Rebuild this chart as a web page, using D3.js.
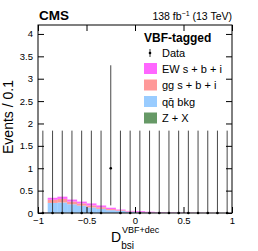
<!DOCTYPE html>
<html>
<head>
<meta charset="utf-8">
<script src="https://cdn.jsdelivr.net/npm/d3@7"></script>
<style>
  body { margin: 0; background: #fff; }
  text { font-family: "Liberation Sans", Arial, sans-serif; }
</style>
</head>
<body>
<div id="content"></div>
<script>
// Bin low edges (width 0.1)
var binLow = [-1.0, -0.9, -0.8, -0.7, -0.6, -0.5, -0.4, -0.3, -0.2, -0.1,
              0.0, 0.1, 0.2, 0.3, 0.4, 0.5, 0.6, 0.7, 0.8, 0.9];
var binWidth = 0.1;

// Stacked expectations, bottom to top
var zxValues = [0.001, 0.005, 0.005, 0.005, 0.004, 0.004, 0.003, 0.003, 0.002, 0.002,
                0.002, 0.001, 0.001, 0.001, 0.001, 0.001, 0.001, 0.0, 0.0, 0.0];
var qqValues = [0.005, 0.22, 0.23, 0.19, 0.16, 0.12, 0.09, 0.06, 0.045, 0.025,
                0.012, 0.008, 0.006, 0.004, 0.003, 0.002, 0.002, 0.001, 0.001, 0.001];
var ggValues = [0.003, 0.07, 0.08, 0.06, 0.05, 0.045, 0.035, 0.025, 0.015, 0.008,
                0.006, 0.005, 0.004, 0.003, 0.002, 0.002, 0.001, 0.001, 0.0, 0.0];
var ewValues = [0.002, 0.045, 0.05, 0.045, 0.04, 0.045, 0.04, 0.03, 0.015, 0.012,
                0.02, 0.014, 0.008, 0.006, 0.005, 0.004, 0.003, 0.002, 0.001, 0.001];

// Observed data with asymmetric Poisson errors
var dataValues = [0, 0, 0, 0, 0, 0, 0, 1, 0, 0, 0, 0, 0, 0, 0, 0, 0, 0, 0, 0];
var dataErrLow = [0, 0, 0, 0, 0, 0, 0, 0.83, 0, 0, 0, 0, 0, 0, 0, 0, 0, 0, 0, 0];
var dataErrHigh = [1.84, 1.84, 1.84, 1.84, 1.84, 1.84, 1.84, 2.30, 1.84, 1.84,
                   1.84, 1.84, 1.84, 1.84, 1.84, 1.84, 1.84, 1.84, 1.84, 1.84];

var xTicks = [-1, -0.5, 0, 0.5, 1];
var yTicks = [0, 0.5, 1, 1.5, 2, 2.5, 3, 3.5, 4];

var legendLabels = ["EW s + b + i", "gg s + b + i", "qq\u0304 bkg", "Z + X"];
var seriesColors = ["#ff66ff", "#ff9999", "#99ccff", "#669966"];

var svgWidth = 258, svgHeight = 251;
var margin = { top: 25, right: 26, bottom: 38, left: 38 },
    plotWidth = svgWidth - margin.left - margin.right,
    plotHeight = svgHeight - margin.top - margin.bottom;

var svg = d3.select("#content").append("svg")
    .attr("width", svgWidth)
    .attr("height", svgHeight);

var plot = svg.append("g")
    .attr("transform", "translate(" + margin.left + "," + margin.top + ")");

var xScale = d3.scaleLinear().domain([-1, 1]).range([0, plotWidth]);
var yScale = d3.scaleLinear().domain([0, 4.2]).range([plotHeight, 0]);

// Build stack rows
var rows = binLow.map(function (x, i) {
    return { x: x, zx: zxValues[i], qq: qqValues[i], gg: ggValues[i], ew: ewValues[i] };
});
var stack = d3.stack().keys(["zx", "qq", "gg", "ew"]);
var layers = stack(rows);
var layerColors = { zx: "#669966", qq: "#99ccff", gg: "#ff9999", ew: "#ff66ff" };

layers.forEach(function (layer) {
    plot.selectAll(".bar-" + layer.key)
        .data(layer)
        .enter().append("rect")
        .attr("class", "bar-" + layer.key)
        .attr("x", function (d) { return xScale(d.data.x); })
        .attr("width", function (d) { return xScale(d.data.x + binWidth) - xScale(d.data.x) + 0.3; })
        .attr("y", function (d) { return yScale(d[1]); })
        .attr("height", function (d) { return Math.max(0, yScale(d[0]) - yScale(d[1])); })
        .attr("fill", layerColors[layer.key]);
});

// Data error bars
var dataRows = binLow.map(function (x, i) {
    return { c: x + binWidth / 2, v: dataValues[i], lo: dataErrLow[i], hi: dataErrHigh[i] };
});
plot.selectAll(".err")
    .data(dataRows)
    .enter().append("line")
    .attr("class", "err")
    .attr("x1", function (d) { return xScale(d.c); })
    .attr("x2", function (d) { return xScale(d.c); })
    .attr("y1", function (d) { return yScale(d.v - d.lo); })
    .attr("y2", function (d) { return yScale(d.v + d.hi); })
    .attr("stroke", "#333")
    .attr("stroke-width", 0.9);
plot.selectAll(".pt")
    .data(dataRows)
    .enter().append("circle")
    .attr("class", "pt")
    .attr("cx", function (d) { return xScale(d.c); })
    .attr("cy", function (d) { return yScale(d.v); })
    .attr("r", 1.3)
    .attr("fill", "#000");

// Frame
plot.append("rect")
    .attr("width", plotWidth).attr("height", plotHeight)
    .attr("fill", "none").attr("stroke", "#000").attr("stroke-width", 1);

// Axes with inward ticks
var xAxis = d3.axisBottom(xScale).tickValues(xTicks).tickSizeInner(-6).tickSizeOuter(0)
    .tickPadding(4).tickFormat(function (d) { return d3.format("")(d).replace("-", "\u2212"); });
var gx = plot.append("g").attr("transform", "translate(0," + plotHeight + ")").call(xAxis);
var xTop = d3.axisTop(xScale).tickValues(xTicks).tickSizeInner(-6).tickSizeOuter(0).tickFormat("");
var gxt = plot.append("g").call(xTop);

var yAxis = d3.axisLeft(yScale).tickValues(yTicks).tickSizeInner(-6).tickSizeOuter(0)
    .tickPadding(5).tickFormat(d3.format(""));
var gy = plot.append("g").call(yAxis);
var yRight = d3.axisRight(yScale).tickValues(yTicks).tickSizeInner(-6).tickSizeOuter(0).tickFormat("");
var gyr = plot.append("g").attr("transform", "translate(" + plotWidth + ",0)").call(yRight);

[gx, gxt, gy, gyr].forEach(function (g) {
    g.select(".domain").remove();
    g.selectAll("line").attr("stroke", "#000");
    g.selectAll("text").attr("font-size", 9.5).attr("fill", "#000")
        .attr("font-family", "'Liberation Sans', Arial, sans-serif");
});

// Axis titles
svg.append("text")
    .attr("transform", "translate(13,117) rotate(-90)")
    .attr("text-anchor", "middle")
    .attr("font-size", 14)
    .text("Events / 0.1");

var xt = svg.append("text").attr("x", 111).attr("y", 242).attr("font-size", 14);
xt.append("tspan").text("D");
xt.append("tspan").attr("font-size", 10).attr("dy", 7).text("bsi");
svg.append("text").attr("x", 122).attr("y", 233).attr("font-size", 9).text("VBF+dec");

// Header
svg.append("text").attr("x", 39).attr("y", 20)
    .attr("font-size", 13.5).attr("font-weight", "bold").text("CMS");
var lumi = svg.append("text").attr("x", 232).attr("y", 20)
    .attr("text-anchor", "end").attr("font-size", 10.5);
lumi.append("tspan").text("138 fb");
lumi.append("tspan").attr("font-size", 7).attr("dy", -4).text("\u22121");
lumi.append("tspan").attr("dy", 4).text(" (13 TeV)");

// Legend
var legendX = 144;
svg.append("text").attr("x", legendX).attr("y", 42)
    .attr("font-size", 12).attr("font-weight", "bold").text("VBF-tagged");
svg.append("line").attr("x1", legendX + 6).attr("x2", legendX + 6)
    .attr("y1", 49).attr("y2", 57).attr("stroke", "#000").attr("stroke-width", 0.8);
svg.append("circle").attr("cx", legendX + 6).attr("cy", 53).attr("r", 1.3).attr("fill", "#000");
svg.append("text").attr("x", legendX + 18).attr("y", 57).attr("font-size", 11).text("Data");

var legendItems = svg.selectAll(".legend-item")
    .data(legendLabels)
    .enter().append("g")
    .attr("class", "legend-item")
    .attr("transform", function (d, i) { return "translate(" + legendX + "," + (63 + i * 16.5) + ")"; });
legendItems.append("rect")
    .attr("width", 13).attr("height", 11)
    .attr("fill", function (d, i) { return seriesColors[i]; });
legendItems.append("text")
    .attr("x", 18).attr("y", 9.5)
    .attr("font-size", 11)
    .text(function (d) { return d; });
</script>
</body>
</html>
